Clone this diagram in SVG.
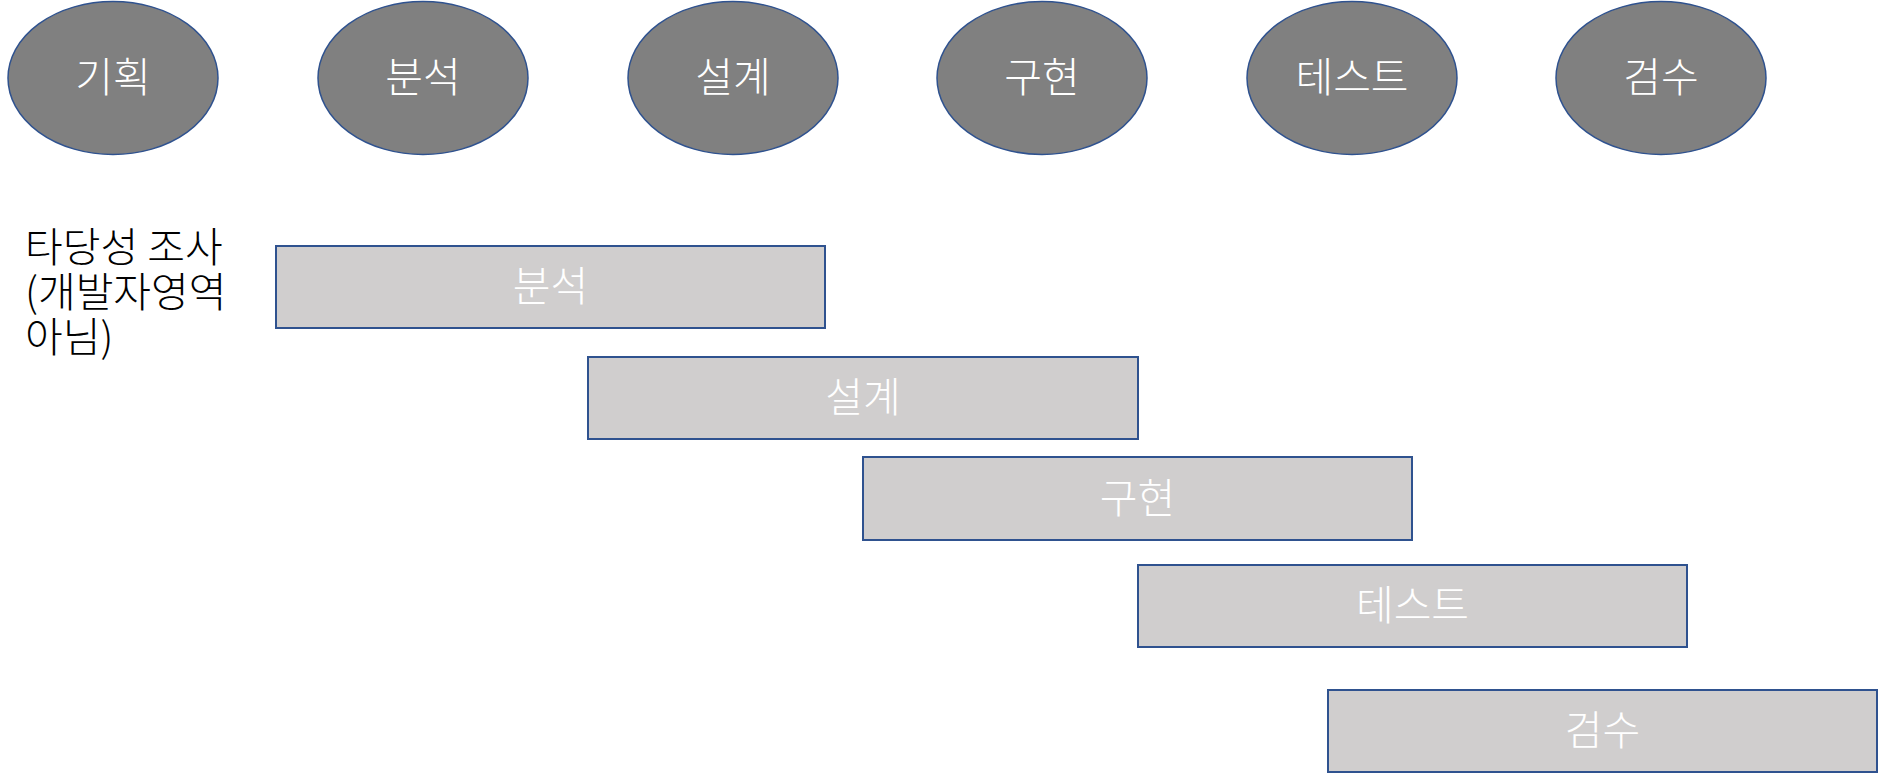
<svg xmlns="http://www.w3.org/2000/svg" width="1879" height="777" viewBox="0 0 1879 777">
<style>
.ph{fill:#808080;stroke:#2F528F;stroke-width:1.5}
.bar{fill:#D0CECE;stroke:#2F528F;stroke-width:2}
.lbl{font-family:"Noto Sans CJK KR","Noto Sans",sans-serif;font-size:41px;font-weight:300;fill:#FFFFFF;text-anchor:middle;dominant-baseline:central}
.note{font-family:"Noto Sans CJK KR","Noto Sans",sans-serif;font-size:41px;font-weight:300;fill:#000000;dominant-baseline:central}
</style>
<rect width="1879" height="777" fill="#FFFFFF"/>
<g id="phase-plan"><ellipse class="ph" cx="113" cy="78" rx="105" ry="76.5"/><text class="lbl" x="113" y="74">기획</text></g>
<g id="phase-analysis"><ellipse class="ph" cx="423" cy="78" rx="105" ry="76.5"/><text class="lbl" x="423" y="74">분석</text></g>
<g id="phase-design"><ellipse class="ph" cx="733" cy="78" rx="105" ry="76.5"/><text class="lbl" x="733" y="74">설계</text></g>
<g id="phase-impl"><ellipse class="ph" cx="1042" cy="78" rx="105" ry="76.5"/><text class="lbl" x="1042" y="74">구현</text></g>
<g id="phase-test"><ellipse class="ph" cx="1352" cy="78" rx="105" ry="76.5"/><text class="lbl" x="1352" y="74">테스트</text></g>
<g id="phase-accept"><ellipse class="ph" cx="1661" cy="78" rx="105" ry="76.5"/><text class="lbl" x="1661" y="74">검수</text></g>
<g id="note"><text class="note" x="25" y="244">타당성 조사</text><text class="note" x="25" y="289">(개발자영역</text><text class="note" x="25" y="334">아님)</text></g>
<g id="bar-analysis"><rect class="bar" x="276" y="246" width="549" height="82"/><text class="lbl" x="550.5" y="283">분석</text></g>
<g id="bar-design"><rect class="bar" x="588" y="357" width="550" height="82"/><text class="lbl" x="863" y="394">설계</text></g>
<g id="bar-impl"><rect class="bar" x="863" y="457" width="549" height="83"/><text class="lbl" x="1137.5" y="494.5">구현</text></g>
<g id="bar-test"><rect class="bar" x="1138" y="565" width="549" height="82"/><text class="lbl" x="1412.5" y="602">테스트</text></g>
<g id="bar-accept"><rect class="bar" x="1328" y="690" width="549" height="82"/><text class="lbl" x="1602.5" y="727">검수</text></g>
<g id="connectors"></g>
</svg>
